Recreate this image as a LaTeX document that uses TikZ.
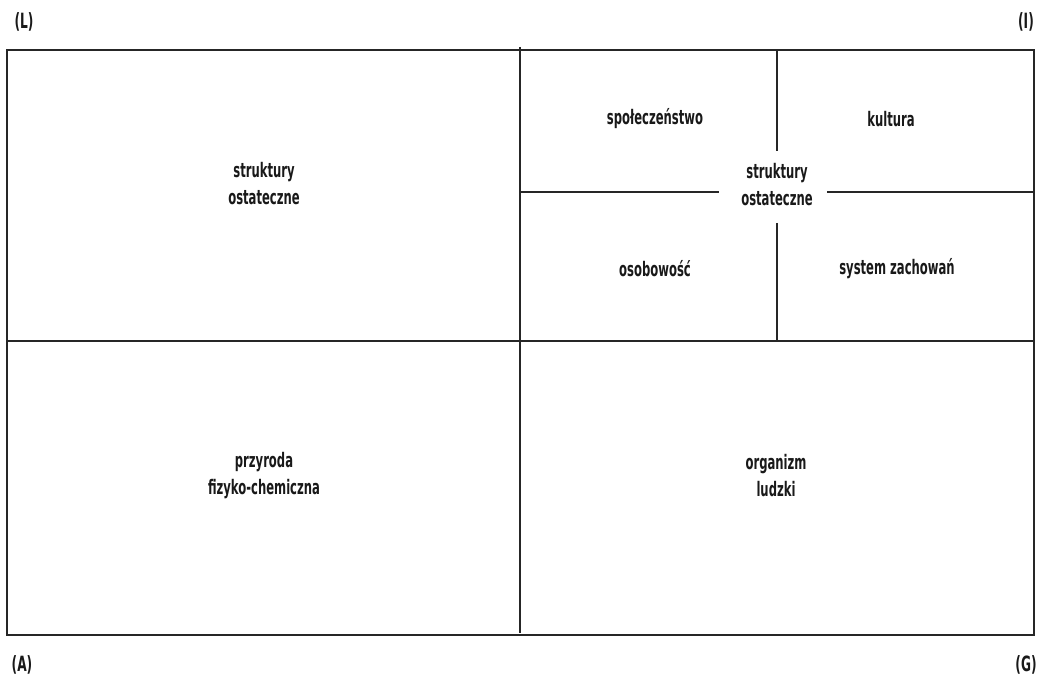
\documentclass[tikz,border=0pt]{standalone}
\usepackage{fontspec}
\setmainfont{DejaVu Sans}[FakeStretch=0.58]
\begin{document}
\begin{tikzpicture}[x=1pt,y=-1pt,
  frame/.style={line width=1.3pt, draw=black!85},
  lbl/.style={font=\fontsize{20}{27}\selectfont\bfseries, align=center, inner sep=0pt, text=black!90},
  corner/.style={font=\fontsize{21}{22}\selectfont\bfseries, inner sep=0pt, text=black!90}]
\useasboundingbox (0,0) rectangle (1038,676);
% outer frame and main partitions
\draw[frame] (7,50) rectangle (1034,635);
\draw[frame] (7,341) -- (1034,341);
\draw[frame] (520,47) -- (520,633);
% inner cross of the upper right field
\coordinate (ct) at (777,50);
\coordinate (cb) at (777,341);
\coordinate (cl) at (520,192);
\coordinate (cr) at (1034,192);
\node[lbl] (core) at (777,185) {struktury\\ostateczne};
\draw[frame] (ct) -- (777,151);
\draw[frame] (777,223) -- (cb);
\draw[frame] (cl) -- (719,192);
\draw[frame] (827,192) -- (cr);
% field labels
\node[lbl] (sl) at (264,184) {struktury\\ostateczne};
\node[lbl] (spol) at (655,119) {społeczeństwo};
\node[lbl] (kult) at (891,119) {kultura};
\node[lbl] (osob) at (655,269) {osobowość};
\node[lbl] (sys) at (897,269) {system zachowań};
\node[lbl] (przy) at (264,476) {przyroda\\fizyko-chemiczna};
\node[lbl] (org) at (776,476) {organizm\\ludzki};
% corner letters
\node[corner] (L) at (24,22) {(L)};
\node[corner] (I) at (1026,22) {(I)};
\node[corner] (A) at (22,665) {(A)};
\node[corner] (G) at (1026,665) {(G)};
\end{tikzpicture}
\end{document}
